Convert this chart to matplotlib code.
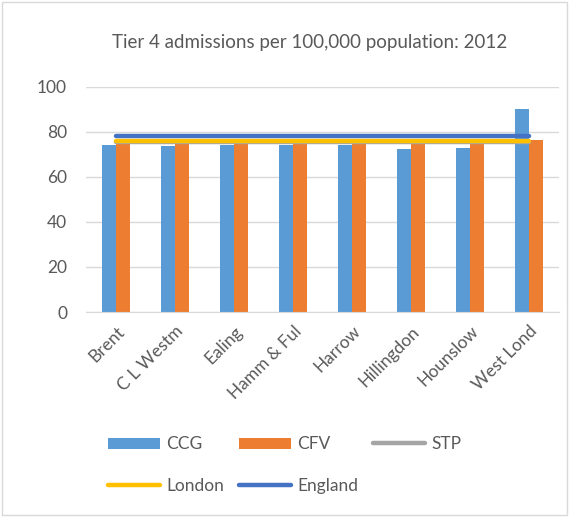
import numpy as np
import matplotlib
matplotlib.use("Agg")
import matplotlib.pyplot as plt
from matplotlib.patches import Rectangle

plt.rcParams['font.family'] = ['Lato', 'DejaVu Sans']

# dados
areas = ['Brent', 'C L Westm', 'Ealing', 'Hamm & Ful', 'Harrow',
         'Hillingdon', 'Hounslow', 'West Lond']
ccg = [74.1, 73.6, 74.1, 74.0, 74.2, 72.2, 72.9, 90.0]
cfv = [75.0, 75.0, 75.0, 75.0, 75.0, 75.0, 75.0, 76.3]
stp = [75.4] * 8
london = [76.0] * 8
england = [78.1] * 8
yticks = [0, 20, 40, 60, 80, 100]

txt = '#595959'

fig = plt.figure(figsize=(5.69, 5.17), dpi=100)
ax = fig.add_axes([0.152, 0.3965, 0.83, 0.4358])

x = np.arange(len(areas))
w = 0.24
ax.bar(x - w / 2, ccg, w, color='#5B9BD5', label='CCG', zorder=2)
ax.bar(x + w / 2, cfv, w, color='#ED7D31', label='CFV', zorder=2)
ax.plot(x, stp, color='#A5A5A5', lw=3.2, solid_capstyle='round', label='STP', zorder=3)
ax.plot(x, london, color='#FFC000', lw=3.2, solid_capstyle='round', label='London', zorder=4)
ax.plot(x, england, color='#4472C4', lw=3.2, solid_capstyle='round', label='England', zorder=5)

ax.set_xlim(-0.5, len(areas) - 0.5)
ax.set_ylim(0, 100)
ax.set_yticks(yticks)
ax.yaxis.grid(True, color='#D9D9D9', lw=1)
ax.set_axisbelow(True)
for s in ['top', 'right', 'left']:
    ax.spines[s].set_visible(False)
ax.spines['bottom'].set_color('#D9D9D9')
ax.tick_params(axis='both', length=0, colors=txt, labelsize=12.5)
ax.tick_params(axis='y', pad=14)
ax.set_xticks(x)
ax.set_xticklabels(areas, rotation=45, ha='right', rotation_mode='anchor')
ax.tick_params(axis='x', pad=8)

fig.text(0.545, 0.918, 'Tier 4 admissions per 100,000 population: 2012',
         ha='center', va='center', fontsize=13.5, color=txt)

# legenda em linhas (ordem para ncol=3)
h, l = ax.get_legend_handles_labels()
lab = dict(zip(l, h))
ordem = ['CCG', 'London', 'CFV', 'England', 'STP']
fig.legend([lab[k] for k in ordem], ordem, ncol=3, loc='center left',
           bbox_to_anchor=(0.19, 0.1006), frameon=False, fontsize=12.5,
           labelcolor=txt, handlelength=3.0, handleheight=0.65,
           handletextpad=0.35, columnspacing=0.86, labelspacing=1.45,
           borderpad=0, borderaxespad=0)

fig.patches.append(Rectangle((0.004, 0.004), 0.992, 0.992, transform=fig.transFigure,
                             fill=False, edgecolor='#D9D9D9', lw=1))

fig.savefig('out.png', dpi=100)
